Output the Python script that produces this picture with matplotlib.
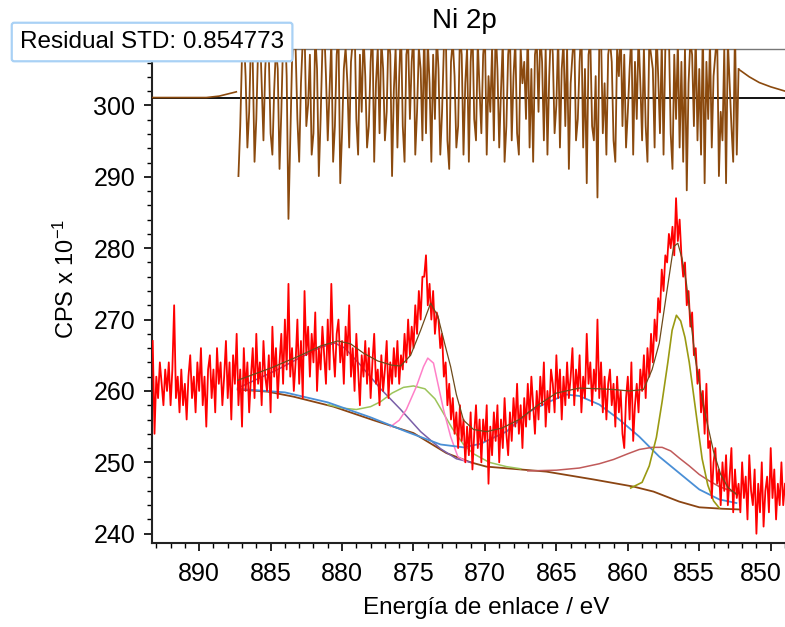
import numpy as np
import matplotlib
matplotlib.use("agg")
import matplotlib.pyplot as plt
import matplotlib.transforms as mtransforms
from matplotlib.ticker import MultipleLocator

plt.rcParams['font.family'] = ['Liberation Sans', 'DejaVu Sans']
plt.rcParams['mathtext.default'] = 'regular'

# measured spectrum, 0.125 eV steps starting at 893.25 eV (one row ~ 1 eV)
cps = [
    267, 254, 262, 259, 264, 261, 258, 263,
    260, 264, 258, 263, 272, 259, 262, 257,
    263, 258, 261, 256, 262, 265, 259, 262,
    257, 264, 260, 266, 258, 262, 255, 263,
    265, 259, 263, 257, 266, 261, 264, 258,
    262, 267, 259, 264, 256, 265, 261, 268,
    258, 263, 255, 266, 260, 264, 257, 262,
    266, 259, 268, 261, 264, 258, 267, 262,
    260, 265, 257, 269, 262, 266, 259, 264,
    268, 261, 270, 263, 275, 262, 266, 260,
    264, 270, 261, 267, 259, 274, 265, 269,
    262, 268, 264, 271, 260, 266, 263, 269,
    265, 261, 270, 263, 275, 266, 262, 268,
    270, 264, 267, 261, 269, 265, 272, 262,
    266, 260, 268, 263, 258, 265, 262, 267,
    261, 266, 259, 264, 268, 261, 263, 258,
    265, 260, 263, 267, 259, 264, 261, 266,
    262, 267, 261, 265, 263, 268, 264, 270,
    265, 269, 266, 272, 268, 274, 270, 276,
    276, 279, 272, 275, 270, 274, 268, 271,
    270, 266, 268, 262, 264, 258, 261, 256,
    259, 254, 257, 252, 258, 253, 256, 250,
    255, 251, 257, 249, 254, 258, 252, 256,
    250, 256, 253, 258, 247, 255, 251, 257,
    253, 258, 250, 256, 252, 259, 254, 251,
    257, 253, 259, 255, 261, 254, 258, 252,
    259, 255, 261, 256, 262, 258, 254, 260,
    256, 262, 258, 264, 255, 260, 257, 263,
    261, 257, 265, 259, 263, 256, 262, 258,
    264, 259, 262, 266, 258, 263, 260, 265,
    257, 262, 259, 268, 261, 264, 258, 263,
    260, 270, 259, 264, 257, 262, 256, 261,
    263, 258, 261, 255, 262, 257, 260, 254,
    252, 259, 262, 256, 264, 253, 258, 261,
    257, 263, 260, 265, 259, 266, 262, 268,
    264, 270, 267, 273, 271, 277, 274, 279,
    278, 282, 280, 283, 279, 287, 281, 284,
    279, 276, 278, 272, 274, 269, 271, 265,
    266, 261, 263, 257, 260, 254, 261, 252,
    253, 245, 250, 252, 247, 249, 244, 250,
    246, 251, 244, 248, 252, 243, 249, 245,
    247, 243, 250, 245, 248, 242, 251, 246,
    244, 249, 240, 247, 243, 250, 241, 246,
    248, 243, 252, 245, 249, 242, 247, 244,
    250, 244, 247,
]
cps_start = 893.25
step = 0.125

# residual (offset from its zero line), 0.125 eV steps from 887.25 eV
resid = [
    -11, -4, 6, 9, 3, -7, -2, 8,
    5, -9, -3, 7, 10, 2, -6, 4,
    9, 6, -5, -8, 1, 7, 4, -10,
    -2, 8, 11, 3, -17, -6, 5, 9,
    7, -3, -9, 2, 8, 10, -4, -1,
    6, -8, -5, 9, 4, -11, -3, 7,
    10, 3, -6, 1, 8, -9, -4, 6,
    9, -12, -5, 4, 7, 2, -7, 5,
    8, 11, -3, -8, 6, -2, 9, 3,
    -7, -4, 5, 10, -9, 2, 7, -5,
    8, 4, -6, -2, 9, 6, -11, 1,
    7, -7, 3, 10, -4, -9, 6, 8,
    -3, 5, 9, -8, -2, 7, 4, -6,
    10, -5, 8, 2, -9, 6, -3, 9,
    4, -8, -2, 7, 11, -6, -10, 5,
    8, 3, -7, -4, 9, 6, -8, 2,
    7, -9, 5, 10, -3, -6, 8, 1,
    -5, 6, 9, -8, 3, -2, 7, -6,
    10, 4, -7, 1, 8, -9, -4, 6,
    9, -6, 3, 8, -5, -8, 7, 2,
    5, -3, 10, -7, 4, -9, 6, 8,
    -2, 9, 5, -6, 7, -8, 3, 10,
    6, -5, -1, 9, -7, 4, 8, -4,
    7, -10, 2, 6, 9, -6, -3, 5,
    10, -7, 4, -12, 6, 8, -4, -6,
    3, -14, 7, 9, -5, 2, -8, 6,
    8, 5, -6, -9, 7, 3, 10, -4,
    6, -7, -2, 4, 9, -8, 5, -3,
    9, 2, -6, 7, -4, -9, 8, 6,
    4, -7, 10, 3, -5, 8, -8, 7,
    7, 9, -5, -10, 6, -3, 8, -7,
    5, -9, 7, -13, 2, 8, 6, -4,
    9, -6, 4, -8, 10, -12, 5, -3,
    8, -7, 3, 6, 9, -11, -2, -6,
    7, -12, 8, 2, -4, -9, 10, -8,
    4,
]
resid_start = 887.25
resid_zero = 301.1
resid_left_e = [893.3, 889.5, 888.6, 887.4]
resid_left_y = [0.0, 0.0, 0.2, 0.8]
resid_right_e = [852.2, 851.5, 850.8, 850.0, 849.0]
resid_right_y = [3.9, 2.9, 2.1, 1.5, 0.9]

# Shirley background
bg_e = [887.3, 885.2, 883.4, 880.6, 877.8, 875.0, 872.7, 871.0, 869.9, 865.7,
        862.4, 859.6, 858.2, 856.4, 855.0, 853.4, 852.2]
bg_y = [260.2, 259.9, 259.2, 257.8, 255.9, 254.1, 251.3, 250.0, 249.4, 248.7,
        247.6, 246.6, 245.9, 244.5, 243.7, 243.5, 243.4]

# fitted components (drawn on top of background)
purple_e = [887.3, 886.0, 884.5, 883.0, 881.5, 880.5, 879.8, 878.7, 877.3, 875.9,
            874.5, 873.1, 872.0, 871.0]
purple_y = [260.4, 261.6, 263.0, 264.6, 266.1, 266.7, 266.0, 263.6, 260.3, 257.4,
            254.3, 251.9, 250.5, 250.0]
green_e = [881.0, 880.0, 879.0, 878.0, 877.3, 876.5, 875.7, 875.0, 874.2, 873.5,
           873.0, 872.3, 871.5, 870.8, 869.7, 868.5, 867.5]
green_y = [258.1, 257.6, 257.4, 257.8, 258.5, 259.7, 260.5, 260.7, 260.3, 258.9,
           257.2, 254.8, 252.5, 251.2, 250.0, 249.4, 249.1]
pink_e = [876.6, 876.0, 875.5, 874.8, 874.3, 874.0, 873.6, 873.3, 872.9, 872.4,
          871.9, 871.3]
pink_y = [255.0, 255.9, 257.4, 260.6, 263.4, 264.6, 263.9, 261.1, 257.4, 253.6,
          250.8, 250.1]
blue_e = [887.3, 884.0, 881.0, 878.0, 875.5, 873.1, 871.5, 870.3, 868.5, 866.9,
          865.5, 864.3, 863.4, 862.0, 860.6, 859.2, 857.8, 856.4, 855.0, 853.6,
          852.4]
blue_y = [260.3, 259.8, 258.4, 256.3, 254.3, 252.5, 252.1, 252.6, 254.3, 257.1,
          258.5, 259.5, 259.3, 258.1, 256.0, 253.6, 250.8, 248.5, 246.2, 244.8,
          244.3]
rose_e = [867.0, 865.0, 863.4, 862.0, 861.0, 860.0, 859.2, 858.3, 857.6, 857.0,
          856.4, 855.7, 855.0, 854.3, 853.6, 852.4]
rose_y = [248.8, 248.9, 249.2, 249.8, 250.4, 251.2, 251.8, 252.1, 252.1, 251.6,
          250.6, 249.5, 248.3, 247.4, 246.6, 245.7]
olive_e = [859.8, 859.0, 858.5, 858.0, 857.6, 857.2, 856.9, 856.6, 856.3, 856.0,
           855.7, 855.4, 855.1, 854.8, 854.4, 854.0, 853.6]
olive_y = [246.4, 247.2, 249.5, 253.5, 258.5, 264.0, 268.5, 270.6, 269.8, 267.5,
           264.0, 259.5, 255.0, 250.5, 246.8, 244.6, 243.6]

# envelope of the fit
env_e = [887.3, 885.0, 883.0, 881.5, 880.3, 879.4, 878.5, 877.5, 876.5, 875.9,
         875.2, 874.5, 873.8, 873.3, 872.8, 872.4, 872.0, 871.5, 870.8, 869.9,
         868.8, 867.6, 866.3, 865.0, 863.4, 862.0, 861.0, 859.9, 858.9, 858.3,
         857.8, 857.3, 856.8, 856.5, 856.2, 855.9, 855.6, 855.3, 854.9, 854.5,
         854.0, 853.5, 853.0, 852.4]
env_y = [261.5, 263.2, 264.9, 266.3, 267.0, 266.6, 265.3, 264.2, 263.6, 263.5,
         265.0, 268.5, 272.3, 270.5, 266.5, 263.4, 259.5, 255.9, 254.6, 254.3,
         254.8, 256.0, 258.0, 259.7, 260.4, 260.3, 260.2, 260.0, 260.2, 263.0,
         266.7, 273.5, 280.2, 280.7, 278.5, 275.1, 270.0, 264.8, 260.0, 256.0,
         251.5, 248.3, 246.5, 245.5]

cps_e = cps_start - step * np.arange(len(cps))
resid_e = resid_start - step * np.arange(len(resid))

fig = plt.figure(figsize=(7.85, 6.27), dpi=100)
ax = fig.add_axes([152 / 785, 1 - 543 / 627, 1 - 152 / 785, (543 - 49) / 627])

ax.plot(bg_e, bg_y, color="#8b4513", lw=1.3, zorder=2)
ax.plot(purple_e, purple_y, color="#7a5fa8", lw=1.1, zorder=2)
ax.plot(green_e, green_y, color="#9cc45a", lw=1.1, zorder=2)
ax.plot(pink_e, pink_y, color="#ff80c8", lw=1.1, zorder=2)
ax.plot(blue_e, blue_y, color="#4a8fd6", lw=1.3, zorder=2)
ax.plot(rose_e, rose_y, color="#c05a5a", lw=1.1, zorder=2)
ax.plot(olive_e, olive_y, color="#9a9a12", lw=1.2, zorder=2)
ax.plot(cps_e, cps, color="#ff0000", lw=1.3, zorder=3)
ax.plot(env_e, env_y, color="#6e4a1a", lw=0.9, zorder=4)

# residual strip
ax.axhline(resid_zero, color="black", lw=1.3, zorder=5)
ax.plot(resid_left_e, resid_zero + np.array(resid_left_y), color="#8b4a0e", lw=1.2, zorder=6)
ax.plot(resid_e, resid_zero + np.array(resid), color="#8b4a0e", lw=1.3, zorder=6)
ax.plot(resid_right_e, resid_zero + np.array(resid_right_y), color="#8b4a0e", lw=1.2, zorder=6)

ax.set_xlim(893.3, 849.0)
ax.set_ylim(238.7, 307.9)

ax.xaxis.set_major_locator(MultipleLocator(5))
ax.xaxis.set_minor_locator(MultipleLocator(1))
ax.yaxis.set_major_locator(MultipleLocator(10))
ax.yaxis.set_minor_locator(MultipleLocator(2))
ax.tick_params(axis="both", which="major", length=6, width=1.2, labelsize=18, direction="out")
ax.tick_params(axis="both", which="minor", length=3.5, width=1.0, direction="out")
ax.tick_params(axis="x", pad=8)
ax.tick_params(axis="y", pad=6)

ax.spines["right"].set_visible(False)
ax.spines["top"].set_color("#777777")
ax.spines["top"].set_linewidth(1.0)
ax.spines["left"].set_linewidth(1.5)
ax.spines["bottom"].set_linewidth(1.5)
ax.spines["left"].set_color("#222222")
ax.spines["bottom"].set_color("#222222")

# labels at the right end sit a little to the left of their ticks
fig.canvas.draw()
shifts = {855: -6, 850: -10}
for lab, val in zip(ax.get_xticklabels(), ax.get_xticks()):
    dx = shifts.get(int(round(val)), 0)
    if dx:
        lab.set_transform(lab.get_transform() + mtransforms.ScaledTranslation(dx / 100, 0, fig.dpi_scale_trans))

fig.text(0.591, 0.966, "Ni 2p", ha="center", va="center", fontsize=20)
fig.text(0.619, 0.030, "Energía de enlace / eV", ha="center", va="center", fontsize=17.5)
fig.text(0.085, 0.555, "CPS x 10$^{-1}$", ha="center", va="center", rotation=90, fontsize=17)
fig.text(0.0255, 0.933, "Residual STD: 0.854773", ha="left", va="center", fontsize=17.5,
         bbox=dict(boxstyle="round,pad=0.34,rounding_size=0.1", fc="white", ec="#a9d1f5", lw=1.6),
         zorder=10)

plt.savefig("out.png", dpi=100)
